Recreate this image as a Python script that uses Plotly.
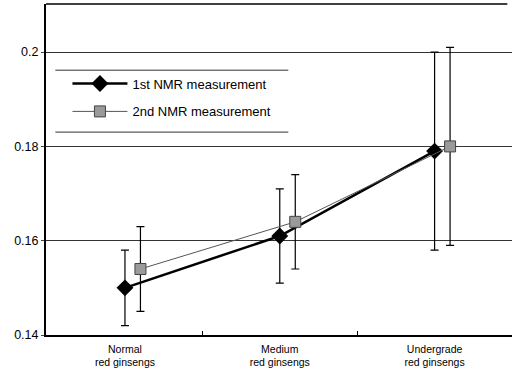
import plotly.graph_objects as go

categories = ["Normal<br>red ginsengs", "Medium<br>red ginsengs", "Undergrade<br>red ginsengs"]
first_vals = [0.150, 0.161, 0.179]
first_err = [0.008, 0.010, 0.021]
second_vals = [0.154, 0.164, 0.180]
second_err = [0.009, 0.010, 0.021]
y_ticks = [0.14, 0.16, 0.18, 0.2]
y_tick_text = ["0.14", "0.16", "0.18", "0.2"]

idx = list(range(len(categories)))
offset = 0.1
x1 = idx
x2 = [i + offset for i in idx]

fig = go.Figure()
fig.add_trace(go.Scatter(
    x=x1, y=first_vals, mode="lines+markers", name="1st NMR measurement",
    legendgroup="a",
    line=dict(color="black", width=2.5),
    marker=dict(symbol="diamond", size=13, color="black"),
    error_y=dict(type="data", array=first_err, color="black", thickness=1.2, width=4),
))
fig.add_trace(go.Scatter(
    x=x2, y=second_vals, mode="lines+markers", name="2nd NMR measurement",
    legendgroup="b",
    line=dict(color="#555555", width=1),
    marker=dict(symbol="square", size=11, color="#9a9a9a", line=dict(color="#444444", width=1)),
    error_y=dict(type="data", array=second_err, color="black", thickness=1.2, width=4),
))

fig.update_layout(
    width=512, height=376,
    margin=dict(l=46, r=0, t=4, b=41),
    paper_bgcolor="white", plot_bgcolor="white",
    font=dict(family="Liberation Sans, Arial, sans-serif", color="black"),
    showlegend=True,
    legend=dict(x=0.046, y=0.805, xanchor="left", yanchor="top",
                bgcolor="rgba(0,0,0,0)", font=dict(size=13),
                tracegroupgap=8, itemwidth=55),
    xaxis=dict(range=[-0.51, 2.5], tickvals=idx, ticktext=categories,
               showgrid=False, zeroline=False, showline=True, linecolor="black",
               linewidth=2, ticks="", tickfont=dict(size=10.5), ticklabelstandoff=3,
               minor=dict(tickvals=[0.5, 1.5], ticks="inside", ticklen=4, tickcolor="black")),
    yaxis=dict(range=[0.14, 0.2102], tickvals=y_ticks, ticktext=y_tick_text,
               showgrid=True, gridcolor="#333333", gridwidth=1, zeroline=False,
               showline=True, linecolor="black", linewidth=2, ticks="outside",
               ticklen=3, tickfont=dict(size=12.5), mirror=False),
)
# top frame line and legend rules
fig.add_shape(type="line", xref="paper", yref="paper", x0=0, x1=0.99, y0=1, y1=1,
              line=dict(color="black", width=1.5))
fig.add_shape(type="line", xref="paper", yref="paper", x0=0.02, x1=0.52, y0=0.80, y1=0.80,
              line=dict(color="#333333", width=1))
fig.add_shape(type="line", xref="paper", yref="paper", x0=0.02, x1=0.52, y0=0.613, y1=0.613,
              line=dict(color="#333333", width=1))

fig.write_html("out.html")
